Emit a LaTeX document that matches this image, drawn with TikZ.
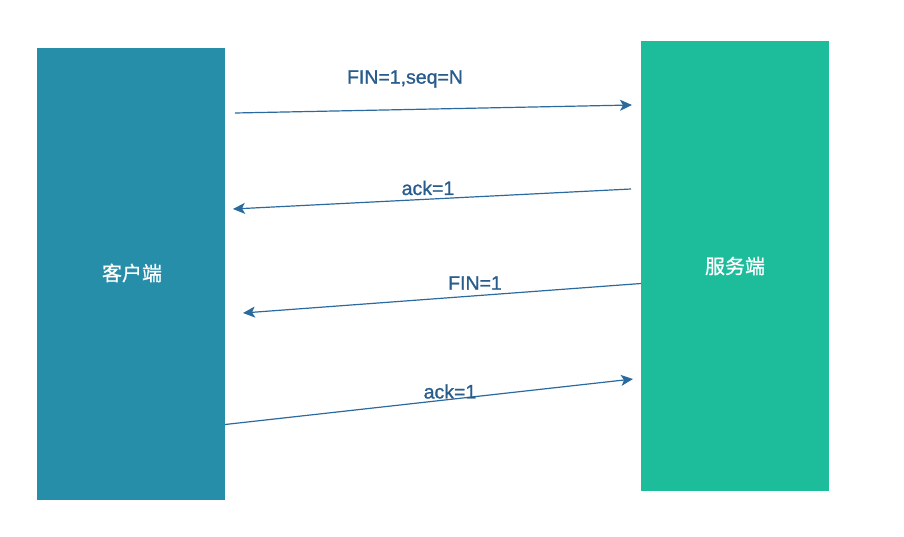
\documentclass[tikz,border=0pt]{standalone}
\usepackage{fontspec}
\setmainfont{Liberation Sans}
\newfontfamily\labfont[FakeBold=1.0]{Liberation Sans}
\newfontfamily\cjk[FakeBold=0.8]{Noto Sans CJK SC}
\usetikzlibrary{arrows.meta}
\definecolor{clientc}{HTML}{268EA9}
\definecolor{serverc}{HTML}{1DBD9C}
\definecolor{arrowc}{HTML}{2A6A9E}
\definecolor{labelc}{HTML}{275C8C}
\tikzset{
  hostbox/.style={fill=#1, draw=none, minimum width=188pt, inner sep=0pt, anchor=north west},
  hostlabel/.style={text=white, font=\cjk\fontsize{20}{20}\selectfont},
  msg/.style={draw=arrowc, line width=1.2pt, -{Stealth[length=12pt,width=11pt,inset=3pt]}},
  msglabel/.style={text=labelc, font=\labfont\fontsize{19.5}{20}\selectfont, inner sep=0pt}
}
\begin{document}
\begin{tikzpicture}[x=1pt,y=-1pt]
\useasboundingbox (0,0) rectangle (904,536);
\node[hostbox=clientc, minimum height=452pt] (client) at (37,48) {};
\node[hostbox=serverc, minimum height=450pt] (server) at (641,41) {};
\node[hostlabel] (clientlabel) at (132,273) {客户端};
\node[hostlabel] (serverlabel) at (735,266) {服务端};
\coordinate (a1s) at (235,113);
\coordinate (a1e) at (632,105);
\coordinate (a2s) at (631,189);
\coordinate (a2e) at (233,209);
\coordinate (a3s) at (641,283.5);
\coordinate (a3e) at (243,313);
\coordinate (a4s) at (225,424.5);
\coordinate (a4e) at (633,379);
\draw[msg] (a1s) -- (a1e);
\draw[msg] (a2s) -- (a2e);
\draw[msg] (a3s) -- (a3e);
\draw[msg] (a4s) -- (a4e);
\node[msglabel] (l1) at (405,79) {FIN=1,seq=N};
\node[msglabel] (l2) at (428,188) {ack=1};
\node[msglabel] (l3) at (475,283) {FIN=1};
\node[msglabel] (l4) at (450,391.5) {ack=1};
\end{tikzpicture}
\end{document}
